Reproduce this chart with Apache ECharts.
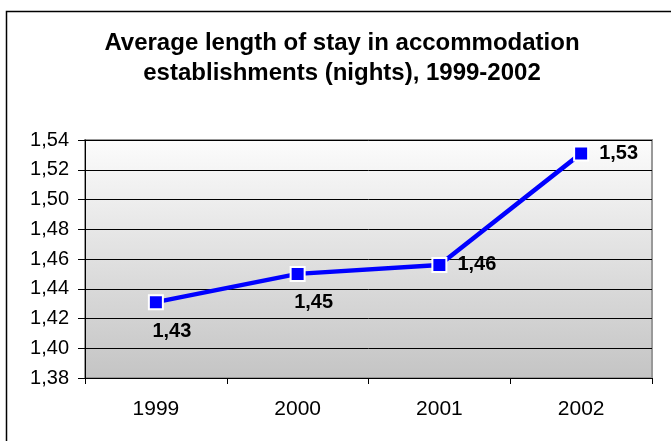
<!DOCTYPE html>
<html>
<head>
<meta charset="utf-8">
<script src="https://cdn.jsdelivr.net/npm/echarts@6/dist/echarts.min.js"></script>
<style>html,body{margin:0;padding:0;background:#fff;}#c{width:671px;height:441px;}</style>
</head>
<body>
<div id="c"></div>
<script>
var categories = ['1999', '2000', '2001', '2002'];
var values = [1.431, 1.450, 1.456, 1.531];
var yTicks = { min: 1.38, max: 1.54, interval: 0.02 };
var titleText = 'Average length of stay in accommodation\nestablishments (nights), 1999-2002';

var labelPos = ['bottom', 'bottom', 'right', 'right'];
var fmt = function (v) { return Number(v).toFixed(2).replace('.', ','); };
var FONT = 'Liberation Sans, Arial, sans-serif';

var chart = echarts.init(document.getElementById('c'), null, { renderer: 'canvas' });
chart.setOption({
  animation: false,
  backgroundColor: '#fff',
  title: {
    text: titleText,
    left: 337,
    textAlign: 'center',
    top: 23,
    padding: 5,
    textStyle: { fontFamily: FONT, fontSize: 24, fontWeight: 'bold', color: '#000', lineHeight: 30 }
  },
  graphic: [{
    type: 'rect', left: 4, top: 9, z: -1,
    shape: { width: 700, height: 460 },
    style: { fill: 'none', stroke: '#000', lineWidth: 1.5 }
  }],
  grid: {
    left: 85, right: 19, top: 140, bottom: 63,
    show: true,
    borderColor: '#999', borderWidth: 2,
    backgroundColor: new echarts.graphic.LinearGradient(0, 0, 0, 1, [
      { offset: 0, color: '#fcfcfc' },
      { offset: 1, color: '#c4c4c4' }
    ])
  },
  xAxis: {
    type: 'category',
    data: categories,
    boundaryGap: true,
    axisLine: { lineStyle: { color: '#000', width: 1 } },
    axisTick: { show: true, length: 6, lineStyle: { color: '#000' } },
    axisLabel: { color: '#000', fontSize: 21, fontFamily: FONT, margin: 21 },
    splitLine: { show: false }
  },
  yAxis: {
    type: 'value',
    min: yTicks.min, max: yTicks.max, interval: yTicks.interval,
    axisLine: { show: true, lineStyle: { color: '#000', width: 1 } },
    axisTick: { show: true, length: 7, lineStyle: { color: '#000' } },
    axisLabel: { color: '#000', fontSize: 20, fontFamily: FONT, margin: 16, formatter: fmt },
    splitLine: { show: true, lineStyle: { color: '#000', width: 1 } }
  },
  series: [{
    type: 'line',
    data: values.map(function (v, i) {
      return {
        value: v,
        label: {
          position: labelPos[i],
          distance: labelPos[i] === 'right' ? 10 : 11,
          offset: labelPos[i] === 'bottom' ? [16, 0] : [0, 0]
        }
      };
    }),
    lineStyle: { color: '#0000ff', width: 4.5 },
    itemStyle: { color: '#0000ff', borderColor: '#fff', borderWidth: 2 },
    symbol: 'rect',
    symbolSize: 14,
    label: {
      show: true,
      color: '#000',
      fontSize: 20,
      fontWeight: 'bold',
      fontFamily: FONT,
      formatter: function (p) { return fmt(p.value); }
    }
  }]
});
</script>
</body>
</html>
